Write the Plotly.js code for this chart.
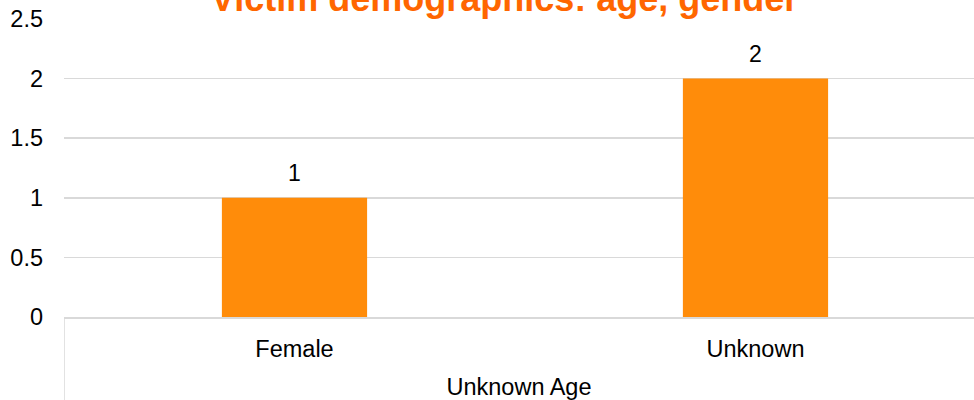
<!DOCTYPE html>
<html>
<head>
<meta charset="utf-8">
<script src="https://cdn.plot.ly/plotly-3.0.1.min.js"></script>
<style>html,body{margin:0;padding:0;background:#fff;}#chart{width:974px;height:400px;}</style>
</head>
<body>
<div id="chart"></div>
<script>
var groupLabel = "Unknown Age";
var genderLabels = ["Female", "Unknown"];
var counts = [1, 2];
var yTickVals = [0, 0.5, 1, 1.5, 2, 2.5];
var yTickText = ["0", "0.5", "1", "1.5", "2", "2.5"];
var chartTitle = "Victim demographics: age, gender";

var font = "Liberation Sans, Arial, sans-serif";

var trace = {
  type: "bar",
  x: genderLabels,
  y: counts,
  width: 0.315,
  marker: {color: "#FF8C0A", line: {width: 0}},
  hoverinfo: "skip"
};

var annotations = counts.map(function (v, i) {
  return {
    x: genderLabels[i], y: v, xref: "x", yref: "y",
    text: String(v), showarrow: false,
    yanchor: "bottom", yshift: 10,
    font: {family: font, size: 23, color: "#000"}
  };
});

var layout = {
  width: 974, height: 400,
  margin: {l: 64, r: 0, t: 19, b: 83, pad: 0},
  paper_bgcolor: "#fff", plot_bgcolor: "#fff",
  showlegend: false,
  title: {
    text: "<b>" + chartTitle + "</b>",
    font: {family: font, size: 36, color: "#FF6600"},
    xref: "container", x: 0.518, xanchor: "center",
    yref: "paper", y: 1, yanchor: "bottom",
    pad: {b: 8, t: 0, l: 0, r: 0}
  },
  xaxis: {
    type: "category",
    range: [-0.5, 1.474],
    showline: true, linecolor: "#d9d9d9", linewidth: 1.5,
    showgrid: false, zeroline: false,
    ticks: "", ticklabelstandoff: 10,
    tickfont: {family: font, size: 23.5, color: "#000"},
    title: {text: groupLabel, standoff: 21, font: {family: font, size: 23.5, color: "#000"}},
    automargin: false,
    fixedrange: true
  },
  yaxis: {
    range: [0, 2.5],
    tickvals: yTickVals, ticktext: yTickText,
    showgrid: true, gridcolor: "#d9d9d9", gridwidth: 1.5,
    zeroline: false, showline: false,
    ticks: "", ticklabelstandoff: 20,
    tickfont: {family: font, size: 23.5, color: "#000"},
    automargin: false,
    fixedrange: true
  },
  shapes: [{
    type: "line", xref: "x", yref: "paper",
    x0: -0.5, x1: -0.5, y0: 0, y1: -0.3,
    line: {color: "#d9d9d9", width: 1.5}
  }],
  annotations: annotations
};

Plotly.newPlot("chart", [trace], layout, {displayModeBar: false, staticPlot: true});
</script>
</body>
</html>
